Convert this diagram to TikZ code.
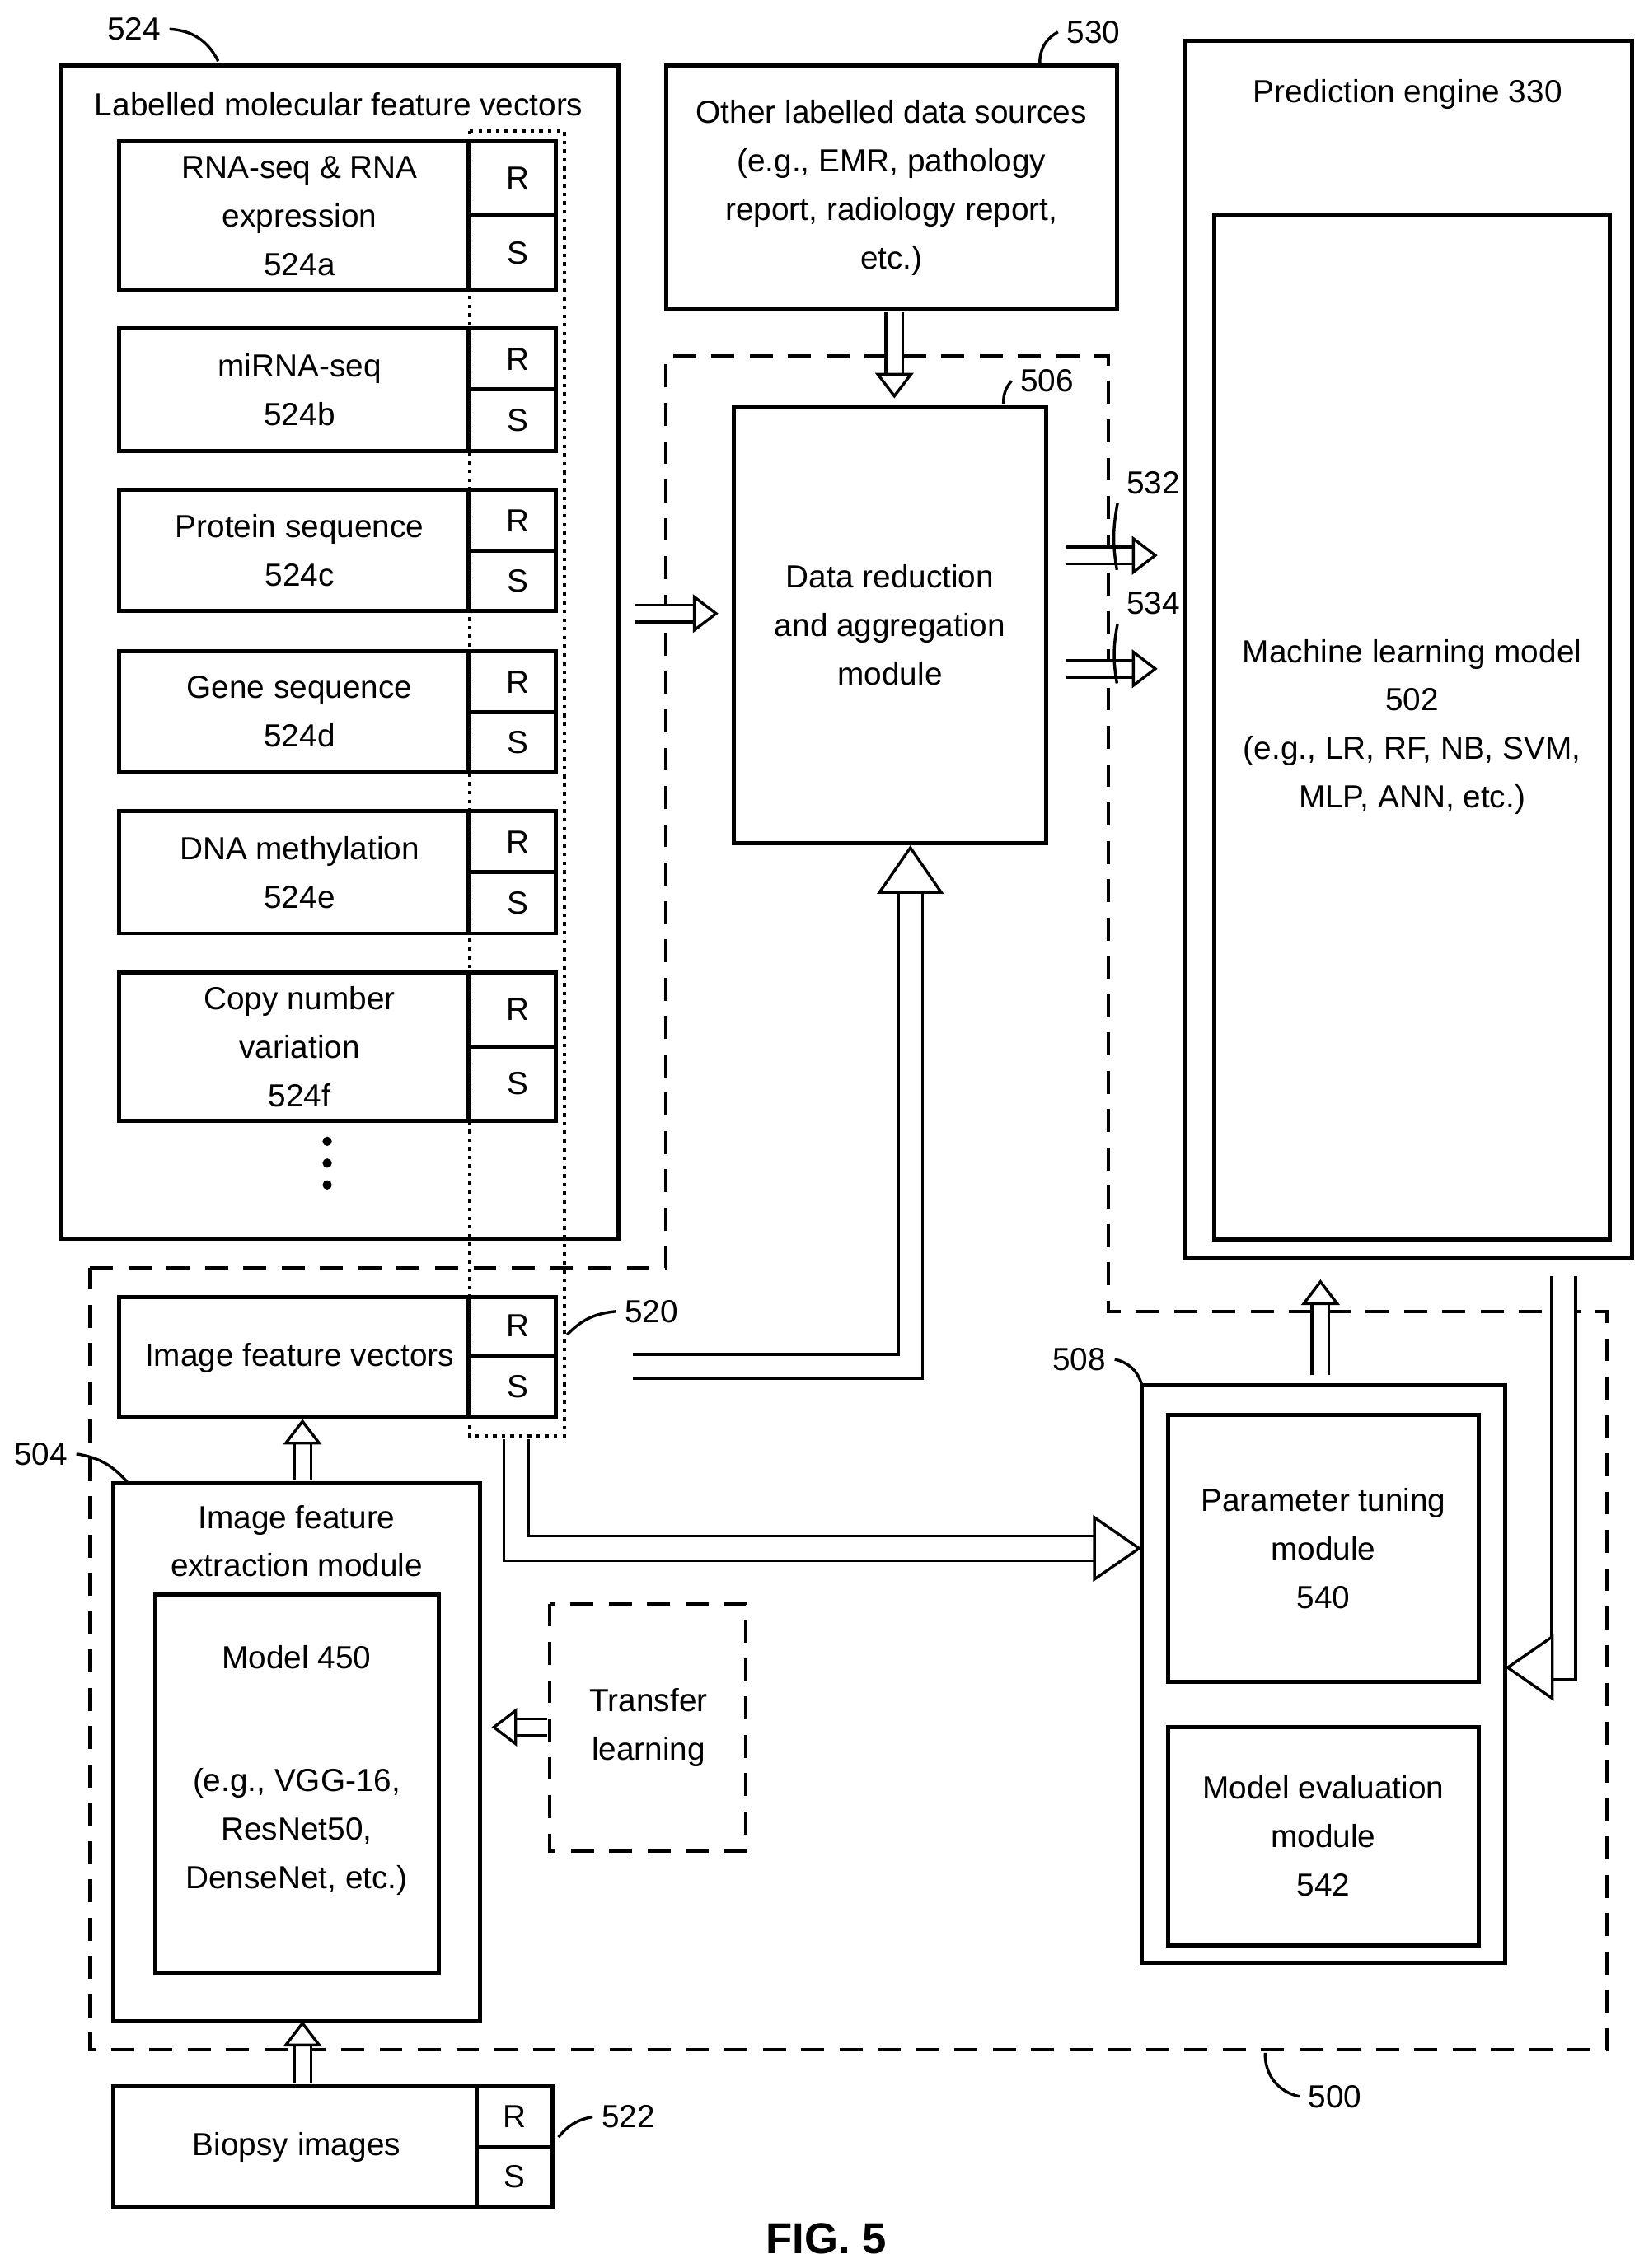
\documentclass[tikz,border=0pt]{standalone}
\usepackage{fontspec}
\setmainfont{Liberation Sans}
\usetikzlibrary{arrows.meta}

\tikzset{
  box/.style={draw, line width=1.6pt},
  lbl/.style={font=\fontsize{12.5}{19}\selectfont, align=center},
  dashbox/.style={draw, line width=1.4pt, dash pattern=on 9pt off 6pt},
  hollow/.style={double=white, double distance=5.5pt, line width=1.1pt,
    -{Triangle[length=10pt, width=15pt, fill=white, line width=1.1pt]}},
  bighollow/.style={double=white, double distance=8.5pt, line width=1.1pt,
    -{Triangle[length=19pt, width=26pt, fill=white, line width=1.1pt]}},
  lead/.style={line width=1.1pt}
}

\begin{document}
\begin{tikzpicture}[x=0.02cm, y=-0.02cm]
\useasboundingbox (0,0) rectangle (1130,1560);

% 524 molecular feature vectors
\draw[box] (42,45) rectangle (425,852);
\node[lbl] (t524) at (233,72) {Labelled molecular feature vectors};
\node[lbl] (l524) at (92,20) {524};
\coordinate (c524) at (150,42);
\draw[lead] (l524.east) to[bend left=30] (c524);

\foreach \top/\bot/\mid/\txt in {
  97/200/148/{RNA-seq \& RNA\\expression\\524a},
  226/310/268/{miRNA-seq\\524b},
  337/420/379/{Protein sequence\\524c},
  448/531/490/{Gene sequence\\524d},
  558/642/600/{DNA methylation\\524e},
  669/771/720/{Copy number\\variation\\524f}}{
  \draw[box] (82,\top) rectangle (382,\bot);
  \draw[box] (322,\top) -- (322,\bot);
  \draw[box] (322,\mid) -- (382,\mid);
  \node[lbl] at (206,{(\top+\bot)/2}) {\txt};
  \node[lbl] at (356,{(\top+\mid)/2}) {R};
  \node[lbl] at (356,{(\mid+\bot)/2}) {S};
}
\foreach \y in {785,800,815}
  \fill (225,\y) circle (3.2);

% dashed 500 frame
\draw[dashbox] (62,872) -- (458,872) -- (458,245) -- (762,245) -- (762,902)
  -- (1105,902) -- (1105,1410) -- (62,1410) -- cycle;
\node[lbl] (l500) at (918,1442) {500};
\coordinate (c500) at (870,1412);
\draw[lead] (l500.west) to[bend left=40] (c500);

% image feature vectors
\draw[box] (82,892) rectangle (382,975);
\draw[box] (322,892) -- (322,975);
\draw[box] (322,933) -- (382,933);
\node[lbl] (ifv) at (206,934) {Image feature vectors};
\node[lbl] at (356,912) {R};
\node[lbl] at (356,954) {S};

% dotted 520
\draw[line width=1.4pt, dotted] (323,90) rectangle (388,988);
\node[lbl] (l520) at (448,902) {520};
\coordinate (c520) at (390,918);
\draw[lead] (l520.west) to[bend right=20] (c520);

% 530
\node[box, lbl, minimum width=6.2cm, minimum height=3.36cm] (b530) at (613,129)
  {Other labelled data sources\\(e.g., EMR, pathology\\report, radiology report,\\etc.)};
\node[lbl] (l530) at (752,22) {530};
\coordinate (c530) at (715,43);
\draw[lead] (l530.west) to[bend right=30] (c530);

% 506
\node[box, lbl, minimum width=4.3cm, minimum height=6cm] (b506) at (612,430)
  {Data reduction\\and aggregation\\module};
\node[lbl] (l506) at (720,262) {506};
\coordinate (c506) at (690,278);
\draw[lead] (l506.west) to[bend right=20] (c506);

% prediction engine
\draw[box] (815,28) rectangle (1122,865);
\node[lbl] (pe) at (968,65) {Prediction engine 330};
\node[box, lbl, minimum width=5.44cm, minimum height=14.1cm] (ml) at (971,500)
  {Machine learning model\\502\\(e.g., LR, RF, NB, SVM,\\MLP, ANN, etc.)};

% 508
\draw[box] (785,953) rectangle (1035,1350);
\node[box, lbl, minimum width=4.28cm, minimum height=3.68cm] (pt) at (910,1065)
  {Parameter tuning\\module\\540};
\node[box, lbl, minimum width=4.28cm, minimum height=3cm] (me) at (910,1263)
  {Model evaluation\\module\\542};
\node[lbl] (l508) at (742,935) {508};
\coordinate (c508) at (785,952);
\draw[lead] (l508.east) to[bend left=30] (c508);

% 504
\draw[box] (78,1020) rectangle (330,1390);
\node[lbl] (ife) at (204,1060) {Image feature\\extraction module};
\draw[box] (107,1097) rectangle (302,1357);
\node[lbl] (m450) at (204,1140) {Model 450};
\node[lbl] (m450e) at (204,1260) {(e.g., VGG-16,\\ResNet50,\\DenseNet, etc.)};
\node[lbl] (l504) at (28,1000) {504};
\coordinate (c504) at (88,1020);
\draw[lead] (l504.east) to[bend left=20] (c504);

% transfer learning
\draw[dashbox] (378,1103) rectangle (513,1273);
\node[lbl] (tl) at (446,1188) {Transfer\\learning};

% biopsy
\draw[box] (78,1435) rectangle (380,1518);
\draw[box] (328,1435) -- (328,1518);
\draw[box] (328,1477) -- (380,1477);
\node[lbl] (bio) at (204,1477) {Biopsy images};
\node[lbl] at (354,1456) {R};
\node[lbl] at (354,1497) {S};
\node[lbl] (l522) at (432,1456) {522};
\coordinate (c522) at (384,1470);
\draw[lead] (l522.west) to[bend right=20] (c522);

% hollow arrows
\coordinate (a1) at (615,215); \coordinate (a2) at (615,274);
\draw[hollow] (a1) -- (a2);
\coordinate (a3) at (437,422); \coordinate (a4) at (494,422);
\draw[hollow] (a3) -- (a4);
\coordinate (a5) at (733,382); \coordinate (a6) at (796,382);
\draw[hollow] (a5) -- (a6);
\coordinate (a7) at (733,460); \coordinate (a8) at (796,460);
\draw[hollow] (a7) -- (a8);
\node[lbl] (l532) at (793,332) {532};
\node[lbl] (l534) at (793,415) {534};
\coordinate (c532) at (768,392); \coordinate (c534) at (768,470);
\draw[lead] (l532.south west) to[bend right=10] (c532);
\draw[lead] (l534.south west) to[bend right=10] (c534);

\coordinate (a9) at (435,940); \coordinate (a10) at (626,940);
\draw[bighollow] (a9) -- (a10) -- (b506.south -| a10);
\coordinate (a11) at (355,990); \coordinate (a12) at (355,1065);
\coordinate (a12e) at (785,1065);
\draw[bighollow] (a11) -- (a12) -- (a12e);
\coordinate (a13) at (1075,878); \coordinate (a14) at (1075,1147);
\coordinate (a14e) at (1035,1147);
\draw[bighollow] (a13) -- (a14) -- (a14e);
\coordinate (a15) at (908,946); \coordinate (a16) at (908,880);
\draw[hollow] (a15) -- (a16);
\coordinate (a17) at (208,1018); \coordinate (a18) at (208,976);
\draw[hollow] (a17) -- (a18);
\coordinate (a19) at (208,1433); \coordinate (a20) at (208,1390);
\draw[hollow] (a19) -- (a20);
\coordinate (a21) at (376,1188); \coordinate (a22) at (338,1188);
\draw[hollow] (a21) -- (a22);

\node[font=\bfseries\fontsize{17}{20}\selectfont] (fig) at (568,1540) {FIG. 5};
\end{tikzpicture}
\end{document}
